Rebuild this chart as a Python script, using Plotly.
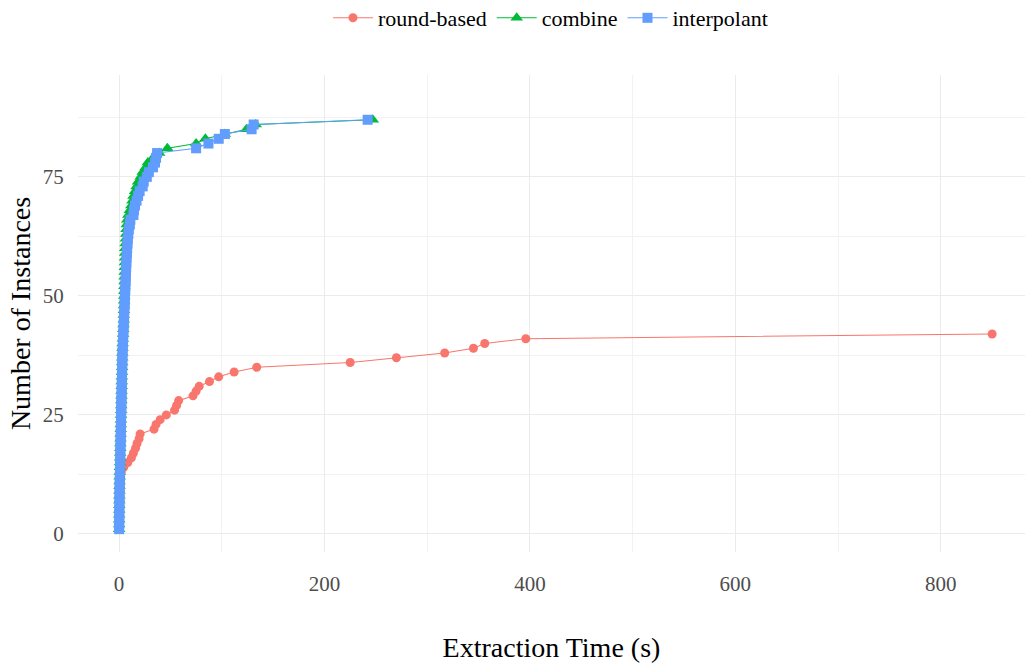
import plotly.graph_objects as go

# ---- data ----
round_based_time = [0.1, 0.2, 0.3, 0.4, 0.5, 0.6, 0.7, 0.8, 0.9, 1.0,
                    1.2, 1.6, 2.2, 4.5, 8.5, 12, 14, 16, 17.5, 19.5,
                    20.5, 34, 36, 40, 46, 54, 56, 58, 72, 75,
                    78, 88, 97, 112, 134, 225, 270, 317, 345, 356,
                    396, 850]
round_based_count = list(range(1, len(round_based_time) + 1))

combine_time = [0.03, 0.06, 0.09, 0.12, 0.15, 0.2, 0.25, 0.3, 0.35, 0.4,
                0.5, 0.6, 0.7, 0.8, 0.9, 1.0, 1.1, 1.2, 1.3, 1.4,
                1.5, 1.6, 1.7, 1.8, 1.9, 2.0, 2.1, 2.2, 2.3, 2.4,
                2.5, 2.6, 2.7, 2.8, 2.9, 3.0, 3.1, 3.2, 3.3, 3.5,
                3.7, 3.9, 4.1, 4.3, 4.5, 4.6, 4.7, 4.8, 4.9, 5.0,
                5.1, 5.2, 5.3, 5.4, 5.5, 5.6, 5.7, 5.8, 5.9, 6.0,
                6.3, 6.6, 6.9, 7.2, 7.5, 8.0, 9.0, 10.5, 12, 13,
                14, 15.5, 17, 18.5, 21, 23, 26, 28, 33, 39,
                47, 75, 84, 103, 124, 133, 247]
combine_count = list(range(1, len(combine_time) + 1))

interpolant_time = [0.05, 0.1, 0.15, 0.2, 0.25, 0.3, 0.35, 0.4, 0.45, 0.5,
                    0.6, 0.7, 0.8, 0.9, 1.0, 1.1, 1.2, 1.3, 1.4, 1.5,
                    1.6, 1.7, 1.8, 1.9, 2.0, 2.1, 2.2, 2.3, 2.4, 2.5,
                    2.6, 2.7, 2.8, 2.9, 3.0, 3.1, 3.2, 3.3, 3.5, 3.7,
                    3.9, 4.1, 4.3, 4.5, 4.7, 4.9, 5.1, 5.3, 5.5, 5.7,
                    5.9, 6.1, 6.3, 6.5, 6.7, 6.9, 7.1, 7.3, 7.6, 7.9,
                    8.2, 8.5, 9.0, 9.5, 10.5, 11, 14, 14.5, 15.5, 17,
                    18.5, 20, 23, 24, 27, 29, 33, 35, 36, 37,
                    75, 87, 97, 103, 129, 131, 242]
interpolant_count = list(range(1, len(interpolant_time) + 1))

x_ticks = [0, 200, 400, 600, 800]
y_ticks = [0, 25, 50, 75]

FONT = "Liberation Serif"

fig = go.Figure()
fig.add_trace(go.Scatter(
    x=round_based_time, y=round_based_count, name="round-based",
    mode="lines+markers",
    line=dict(color="#F8766D", width=1.1),
    marker=dict(symbol="circle", size=9, color="#F8766D")))
fig.add_trace(go.Scatter(
    x=combine_time, y=combine_count, name="combine",
    mode="lines+markers",
    line=dict(color="#00BA38", width=1.1),
    marker=dict(symbol="triangle-up", size=11, color="#00BA38")))
fig.add_trace(go.Scatter(
    x=interpolant_time, y=interpolant_count, name="interpolant",
    mode="lines+markers",
    line=dict(color="#619CFF", width=1.1),
    marker=dict(symbol="square", size=10, color="#619CFF")))

fig.update_layout(
    width=1027, height=666,
    margin=dict(l=78, r=2, t=75, b=114, autoexpand=False),
    paper_bgcolor="white", plot_bgcolor="white",
    font=dict(family=FONT, color="black"),
    legend=dict(orientation="h", x=0.536, xanchor="center", xref="container",
                y=1 - 18 / 666, yanchor="middle", yref="container",
                font=dict(family=FONT, size=22, color="black"),
                itemwidth=40, traceorder="normal"),
    xaxis=dict(
        range=[-40, 882], tickvals=x_ticks,
        ticktext=[str(v) for v in x_ticks],
        showgrid=True, gridcolor="#EBEBEB", gridwidth=1.1,
        minor=dict(dtick=100, tick0=100, showgrid=True,
                   gridcolor="#F2F2F2", gridwidth=0.6),
        zeroline=False, showline=False, automargin=False,
        ticks="outside", ticklen=13, tickcolor="rgba(0,0,0,0)",
        tickfont=dict(family=FONT, size=21, color="#4D4D4D"),
        title=dict(text="Extraction Time (s)",
                   font=dict(family=FONT, size=28, color="black"),
                   standoff=42)),
    yaxis=dict(
        range=[-3.8, 96.4], tickvals=y_ticks,
        ticktext=[str(v) for v in y_ticks],
        showgrid=True, gridcolor="#EBEBEB", gridwidth=1.1,
        minor=dict(dtick=25, tick0=12.5, showgrid=True,
                   gridcolor="#F2F2F2", gridwidth=0.6),
        zeroline=False, showline=False, automargin=False,
        ticks="outside", ticklen=9, tickcolor="rgba(0,0,0,0)",
        tickfont=dict(family=FONT, size=21, color="#4D4D4D"),
        title=dict(text="Number of Instances",
                   font=dict(family=FONT, size=28, color="black"),
                   standoff=3)),
)

fig.write_html("out.html",
               config={"displayModeBar": False},
               post_script="document.body.style.margin='0';")
